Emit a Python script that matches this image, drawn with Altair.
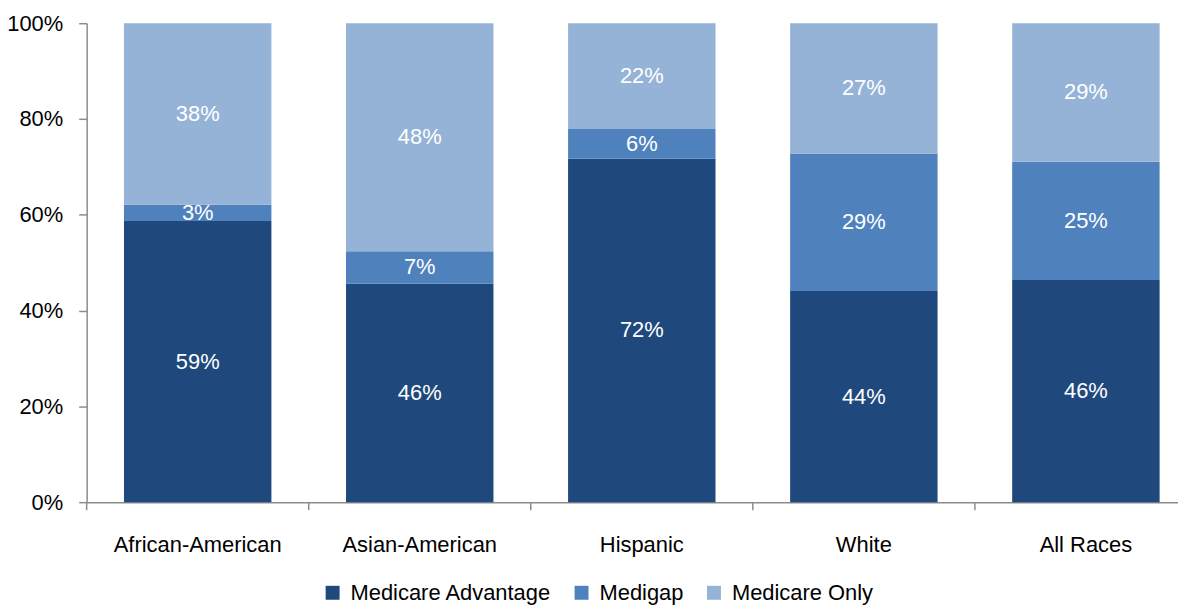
import altair as alt
import pandas as pd

races = ["African-American", "Asian-American", "Hispanic", "White", "All Races"]
series = ["Medicare Advantage", "Medigap", "Medicare Only"]
medicare_advantage = [58.7, 45.6, 71.7, 44.1, 46.4]
medigap = [3.4, 6.8, 6.2, 28.7, 24.7]
medicare_only = [37.9, 47.6, 22.1, 27.2, 28.9]
colors = ["#1F497D", "#4F81BD", "#95B3D7"]
y_ticks = [0, 20, 40, 60, 80, 100]

rows = []
for i, r in enumerate(races):
    for j, (s, vals) in enumerate(zip(series, [medicare_advantage, medigap, medicare_only])):
        rows.append({"race": r, "series": s, "order": j, "value": vals[i]})
df = pd.DataFrame(rows)
cats = pd.DataFrame({"race": races})

FONT = "Liberation Sans"
FS = 22
AXIS_COLOR = "#8C8C8C"
RANGE = 1115
STEP = RANGE / 5
P_INNER = 0.336

x_scale = alt.Scale(range=[0, RANGE], paddingInner=P_INNER, paddingOuter=P_INNER / 2, round=False)

x_enc = alt.X(
    "race:N",
    sort=races,
    title=None,
    scale=x_scale,
    axis=alt.Axis(
        labelFont=FONT, labelFontSize=FS, labelColor="black", labelAngle=0, labelLimit=0,
        ticks=False, domainColor=AXIS_COLOR, domainWidth=1.5, labelPadding=33,
    ),
)

bars = alt.Chart(df).mark_bar().encode(
    x=x_enc,
    y=alt.Y(
        "value:Q", stack="zero",
        scale=alt.Scale(domain=[0, 100], nice=False),
        axis=alt.Axis(
            values=y_ticks, labelExpr="datum.value + '%'", grid=False, title=None,
            labelFont=FONT, labelFontSize=FS, labelColor="black",
            tickSize=8, tickColor=AXIS_COLOR, tickWidth=1.5,
            domainColor=AXIS_COLOR, domainWidth=1.5, labelPadding=16,
        ),
    ),
    color=alt.Color(
        "series:N",
        scale=alt.Scale(domain=series, range=colors),
        legend=alt.Legend(
            title=None, orient="none", direction="horizontal", legendX=236, legendY=561,
            symbolType="square", symbolSize=196, symbolStrokeWidth=0,
            labelFont=FONT, labelFontSize=FS, labelColor="black", labelLimit=0,
            labelOffset=7, columnPadding=19,
        ),
    ),
    order=alt.Order("order:Q"),
)

# category-boundary ticks on the x axis (midway in the gap before each bar)
ticks = alt.Chart(cats).mark_rule(
    color=AXIS_COLOR, strokeWidth=1.5, xOffset=-STEP * P_INNER / 2
).encode(
    x=alt.X("race:N", sort=races, bandPosition=0),
    y=alt.value(481),
    y2=alt.value(489),
)

labels = alt.Chart(df).transform_stack(
    stack="value", groupby=["race"], as_=["y0", "y1"], sort=[alt.SortField("order")]
).transform_calculate(
    mid="(datum.y0 + datum.y1) / 2",
    label="format(datum.value, '.0f') + '%'",
).mark_text(color="white", font=FONT, fontSize=FS, baseline="middle").encode(
    x=alt.X("race:N", sort=races),
    y=alt.Y("mid:Q"),
    text="label:N",
)

chart = alt.layer(bars, ticks, labels).properties(
    width=1096,
    height=481,
    autosize=alt.AutoSizeParams(type="none"),
    padding={"left": 79, "top": 14, "right": 0, "bottom": 104},
).configure_view(stroke=None)

chart.save("out.html", embed_options={"renderer": "svg", "actions": False})
